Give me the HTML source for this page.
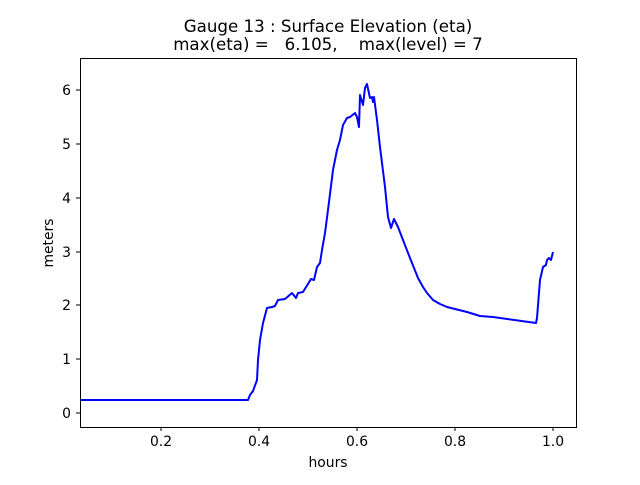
<!DOCTYPE html>
<html><head><style>body{margin:0;background:#fff}</style></head><body>
<svg width="640" height="480" xmlns="http://www.w3.org/2000/svg" font-family="DejaVu Sans, Liberation Sans, sans-serif">
<rect width="640" height="480" fill="#fff"/>
<text x="328" y="32" font-size="16.67" text-anchor="middle">Gauge 13 : Surface Elevation (eta)</text>
<text x="328" y="50" font-size="16.67" text-anchor="middle" xml:space="preserve">max(eta) =   6.105,    max(level) = 7</text>
<polyline fill="none" stroke="#0000ff" stroke-width="2" stroke-linejoin="round" points="80,400 248,400 250,395 253,391 257,380 258,360 260,340 263,323 267,308 272,307 275,306 278,300 285,299 292,293 296,298 298,293 303,292 311,279 314,280 317,267 320,263 322,250 325,233 328,210 333,170 337,150 340,140 343,125 347,118 350,117 355,113 357,117 359,127 360,95 363,105 365,88 367,84 370,98 372,97 373,102 374,97 377,120 380,147 385,187 388,217 391,228 394,219 398,227 403,240 410,258 418,278 423,287 427,293 433,300 440,304 447,307 467,312 480,316 493,317 536,323 537,318 540,280 543,267 546,265 547,260 549,258 551,260 553,252"/>
<rect x="80.5" y="58.5" width="496" height="369" fill="none" stroke="#000" stroke-width="1"/>
<g stroke="#000">
<line x1="161" y1="427" x2="161" y2="431"/><line x1="259" y1="427" x2="259" y2="431"/><line x1="357" y1="427" x2="357" y2="431"/><line x1="455" y1="427" x2="455" y2="431"/><line x1="553" y1="427" x2="553" y2="431"/>
<line x1="76" y1="413" x2="80" y2="413"/><line x1="76" y1="359" x2="80" y2="359"/><line x1="76" y1="305" x2="80" y2="305"/><line x1="76" y1="252" x2="80" y2="252"/><line x1="76" y1="198" x2="80" y2="198"/><line x1="76" y1="144" x2="80" y2="144"/><line x1="76" y1="90" x2="80" y2="90"/>
</g>
<g font-size="13.9" text-anchor="middle">
<text x="161" y="446">0.2</text><text x="259" y="446">0.4</text><text x="357" y="446">0.6</text><text x="455" y="446">0.8</text><text x="553" y="446">1.0</text>
<text x="328" y="467">hours</text>
</g>
<g font-size="13.9" text-anchor="end">
<text x="71" y="418">0</text><text x="71" y="364">1</text><text x="71" y="310">2</text><text x="71" y="257">3</text><text x="71" y="203">4</text><text x="71" y="149">5</text><text x="71" y="95">6</text>
</g>
<text x="53" y="243" font-size="13.9" text-anchor="middle" transform="rotate(-90 53 243)">meters</text>
</svg>
</body></html>
